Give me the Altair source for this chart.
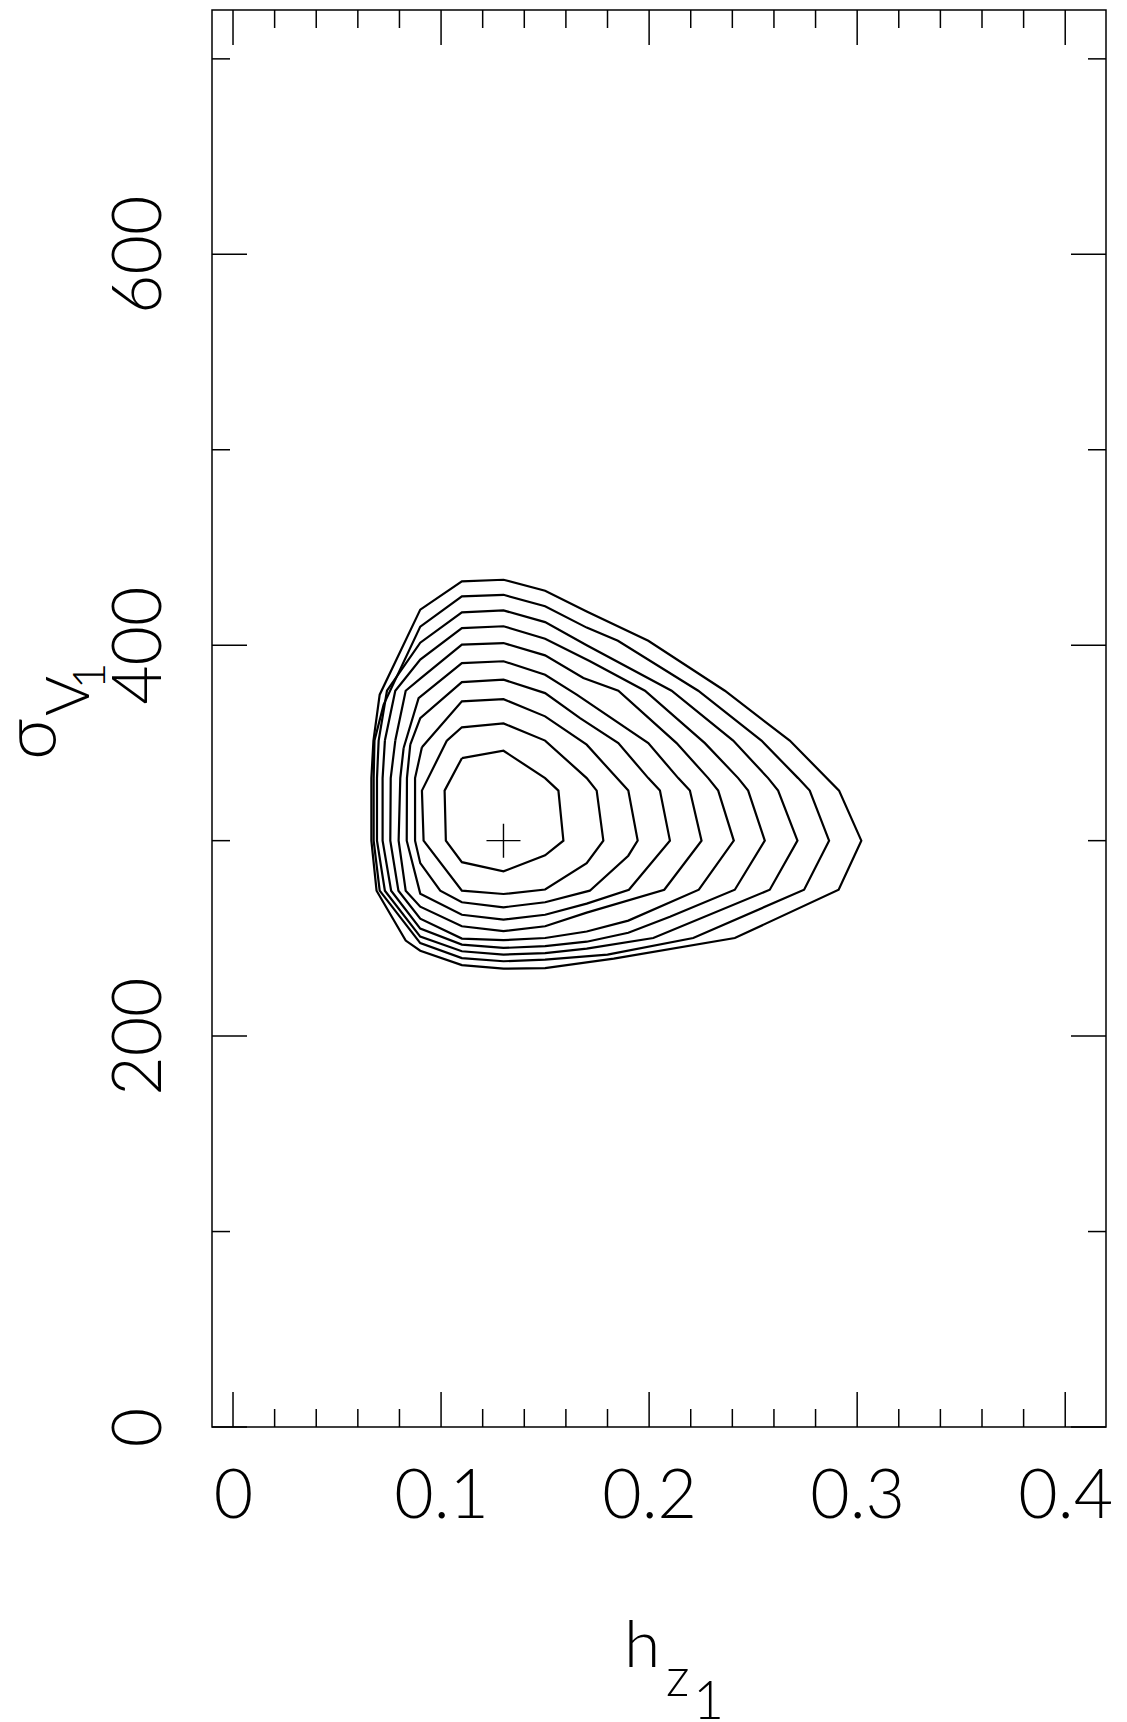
import altair as alt
import pandas as pd

# Likelihood contours in the (h_z1, sigma_V1) plane, innermost first.
contour_1 = [(0.11, 342.2), (0.13, 346.0), (0.15, 332.0), (0.1564, 325.6), (0.1588, 300.0),
             (0.15, 292.5), (0.13, 284.3), (0.11, 289.0), (0.1023, 300.0), (0.1017, 325.6)]
contour_2 = [(0.1028, 351.2), (0.11, 358.0), (0.13, 360.0), (0.15, 351.2), (0.17, 332.0),
             (0.1748, 325.6), (0.178, 300.0), (0.17, 288.5), (0.15, 275.0), (0.13, 272.7),
             (0.11, 274.4), (0.0916, 300.0), (0.0908, 325.6)]
contour_3 = [(0.0908, 347.8), (0.11, 371.3), (0.13, 372.4), (0.15, 363.6), (0.17, 349.1),
             (0.19, 325.6), (0.1945, 300.0), (0.19, 292.3), (0.1715, 274.4), (0.15, 268.5),
             (0.13, 265.9), (0.11, 268.5), (0.0996, 274.4), (0.09, 288.5), (0.0875, 300.0),
             (0.0875, 332.0)]
contour_4 = [(0.0852, 349.1), (0.09, 362.7), (0.11, 381.1), (0.13, 382.4), (0.15, 375.5),
             (0.1668, 362.7), (0.1852, 349.9), (0.1996, 332.0), (0.2052, 325.6), (0.21, 300.0),
             (0.1903, 274.9), (0.17, 267.8), (0.15, 262.1), (0.13, 259.6), (0.11, 262.1),
             (0.09, 272.9), (0.0835, 300.0), (0.0836, 332.0)]
contour_5 = [(0.082, 347.4), (0.0892, 372.9), (0.11, 390.8), (0.13, 391.8), (0.15, 384.9),
             (0.1652, 374.7), (0.1996, 349.9), (0.214, 332.0), (0.2196, 325.6), (0.2252, 300.0),
             (0.2073, 274.9), (0.17, 263.2), (0.15, 256.2), (0.13, 253.7), (0.11, 256.2),
             (0.09, 266.2), (0.083, 274.4), (0.0796, 300.0), (0.0804, 332.0)]
contour_6 = [(0.078, 351.2), (0.083, 376.7), (0.09, 382.9), (0.11, 400.3), (0.13, 401.1),
             (0.15, 394.8), (0.1684, 383.2), (0.1852, 376.7), (0.2132, 349.9), (0.2284, 332.0),
             (0.2332, 325.6), (0.2407, 300.0), (0.2239, 274.9), (0.19, 259.1), (0.17, 253.5),
             (0.15, 250.2), (0.13, 249.1), (0.11, 249.9), (0.09, 260.1), (0.0795, 274.4),
             (0.0756, 300.0), (0.0758, 332.0)]
contour_7 = [(0.073, 351.2), (0.078, 376.7), (0.09, 392.6), (0.11, 408.7), (0.13, 409.7),
             (0.15, 403.3), (0.1716, 391.8), (0.198, 376.7), (0.2268, 349.9), (0.2428, 332.0),
             (0.2476, 325.6), (0.2556, 300.0), (0.2412, 274.9), (0.21, 261.1), (0.19, 252.9),
             (0.17, 248.3), (0.15, 246.0), (0.13, 245.1), (0.11, 246.8), (0.09, 255.0),
             (0.076, 274.4), (0.0719, 300.0), (0.0719, 332.0)]
contour_8 = [(0.07, 351.2), (0.074, 376.7), (0.09, 401.3), (0.11, 416.8), (0.13, 417.8),
             (0.15, 411.8), (0.17, 400.0), (0.2108, 376.7), (0.2404, 351.2), (0.2572, 332.0),
             (0.262, 325.6), (0.2713, 300.0), (0.258, 274.9), (0.202, 250.2), (0.17, 244.8),
             (0.15, 242.5), (0.13, 241.7), (0.11, 243.4), (0.09, 250.9), (0.073, 274.4),
             (0.0692, 300.0), (0.0692, 332.0)]
contour_9 = [(0.068, 351.2), (0.0724, 369.6), (0.09, 409.5), (0.11, 425.0), (0.13, 425.8),
             (0.15, 419.9), (0.17, 409.0), (0.185, 402.3), (0.2236, 376.7), (0.254, 351.2),
             (0.2716, 332.0), (0.2772, 325.6), (0.2865, 300.0), (0.2745, 274.9), (0.2212, 250.2),
             (0.18, 241.7), (0.15, 239.1), (0.13, 238.3), (0.11, 239.9), (0.09, 247.6),
             (0.0705, 274.4), (0.0676, 300.0), (0.0676, 332.0)]
contour_10 = [(0.0675, 351.2), (0.0705, 374.7), (0.09, 418.2), (0.11, 432.7), (0.13, 433.5),
              (0.15, 427.9), (0.17, 417.3), (0.1996, 402.3), (0.2364, 376.7), (0.2676, 351.2),
              (0.2913, 325.6), (0.302, 300.0), (0.2911, 274.9), (0.2412, 250.2), (0.183, 239.6),
              (0.15, 234.8), (0.13, 234.5), (0.11, 236.3), (0.09, 243.7), (0.083, 248.9),
              (0.069, 274.4), (0.0665, 300.0), (0.0665, 332.0)]
contours = [contour_1, contour_2, contour_3, contour_4, contour_5,
            contour_6, contour_7, contour_8, contour_9, contour_10]

# Best-fit point
best_hz = [0.13]
best_sigma = [300.0]

# Axis ticks and labels
x_major_ticks = [0.0, 0.1, 0.2, 0.3, 0.4]
x_major_labels = ["0", "0.1", "0.2", "0.3", "0.4"]
x_minor_ticks = [0.02, 0.04, 0.06, 0.08, 0.12, 0.14, 0.16, 0.18, 0.22, 0.24, 0.26, 0.28,
                 0.32, 0.34, 0.36, 0.38]
y_major_ticks = [0, 200, 400, 600]
y_major_labels = ["0", "200", "400", "600"]
y_minor_ticks = [100, 300, 500, 700]

x_title_parts = ["h", "z", "1"]
y_title_parts = ["σ", "V", "1"]

W, H = 894, 1417
X_DOMAIN = [-0.0101, 0.4196]
Y_DOMAIN = [0, 725]
FONT = "Lato"
WEIGHT = 300
MAJOR_LEN, MINOR_LEN = 35, 18
LINE_W = 1.5

rows = []
for level, pts in enumerate(contours, start=1):
    closed = pts + [pts[0]]
    for i, (x, y) in enumerate(closed):
        rows.append({"level": level, "order": i, "x": x, "y": y})
contour_df = pd.DataFrame(rows)


def label_expr(values, labels):
    vals = ",".join(repr(v) for v in values)
    labs = ",".join("'" + s + "'" for s in labels)
    return f"[{labs}][indexof([{vals}], datum.value)]"


x_scale = alt.Scale(domain=X_DOMAIN, nice=False, zero=False)
y_scale = alt.Scale(domain=Y_DOMAIN, nice=False, zero=False)

x_axis = alt.Axis(values=x_major_ticks, labelExpr=label_expr(x_major_ticks, x_major_labels),
                  title=None, ticks=False, tickSize=0, domain=False, grid=False,
                  labelFont=FONT, labelFontSize=68, labelFontWeight=WEIGHT, labelColor="black",
                  labelPadding=90, labelBaseline="alphabetic", labelAlign="center",
                  labelAngle=0, labelFlush=False, labelOverlap=False, labelBound=False)
y_axis = alt.Axis(values=y_major_ticks, labelExpr=label_expr(y_major_ticks, y_major_labels),
                  title=None, ticks=False, tickSize=0, domain=False, grid=False,
                  labelFont=FONT, labelFontSize=68, labelFontWeight=WEIGHT, labelColor="black",
                  labelPadding=52, labelBaseline="alphabetic", labelAlign="center",
                  labelAngle=270, labelFlush=False, labelOverlap=False, labelBound=False)

X = alt.X("x:Q", scale=x_scale, axis=x_axis)
Y = alt.Y("y:Q", scale=y_scale, axis=y_axis)

lines = alt.Chart(contour_df).mark_line(color="black", strokeWidth=2.2).encode(
    x=X, y=Y, detail="level:N", order="order:Q")

marker = alt.Chart(pd.DataFrame({"x": best_hz, "y": best_sigma})).mark_point(
    shape="M -1 0 L 1 0 M 0 -1 L 0 1", size=1156, filled=False,
    color="black", strokeWidth=1.4, opacity=1).encode(x=X, y=Y)


def x_ticks(values, length, top):
    df = pd.DataFrame({"x": values})
    y0, y1 = (0, length) if top else (H, H - length)
    return alt.Chart(df).mark_rule(color="black", strokeWidth=LINE_W).encode(
        x=X, y=alt.value(y0), y2=alt.value(y1))


def y_ticks(values, length, right):
    df = pd.DataFrame({"y": values})
    x0, x1 = (W, W - length) if right else (0, length)
    return alt.Chart(df).mark_rule(color="black", strokeWidth=LINE_W).encode(
        y=Y, x=alt.value(x0), x2=alt.value(x1))


tick_layers = [
    x_ticks(x_major_ticks, MAJOR_LEN, False), x_ticks(x_minor_ticks, MINOR_LEN, False),
    x_ticks(x_major_ticks, MAJOR_LEN, True), x_ticks(x_minor_ticks, MINOR_LEN, True),
    y_ticks(y_major_ticks, MAJOR_LEN, False), y_ticks(y_minor_ticks, MINOR_LEN, False),
    y_ticks(y_major_ticks, MAJOR_LEN, True), y_ticks(y_minor_ticks, MINOR_LEN, True),
]


def title_text(text, size, px, py, align="left", angle=0):
    return alt.Chart(pd.DataFrame({"t": [text]})).mark_text(
        font=FONT, fontWeight=WEIGHT, fontSize=size, color="black",
        align=align, baseline="alphabetic", angle=angle).encode(
        text="t:N", x=alt.value(px), y=alt.value(py))


title_layers = [
    title_text(x_title_parts[0], 66, 412, 1657),
    title_text(x_title_parts[1], 53, 454, 1686),
    title_text(x_title_parts[2], 53, 496.5, 1709, align="center"),
    title_text(y_title_parts[0], 72, -156, 750, angle=270),
    title_text(y_title_parts[1], 61, -123, 706, angle=270),
    title_text(y_title_parts[2], 46, -107, 666, align="center", angle=270),
]

chart = alt.layer(lines, marker, *tick_layers, *title_layers).properties(
    width=W, height=H,
    padding={"left": 212, "top": 10, "right": 21, "bottom": 295},
    autosize=alt.AutoSizeParams(type="none"),
    background="white",
).configure_view(stroke="black", strokeWidth=LINE_W)

chart.save("out.html", embed_options={"renderer": "svg", "actions": False})
